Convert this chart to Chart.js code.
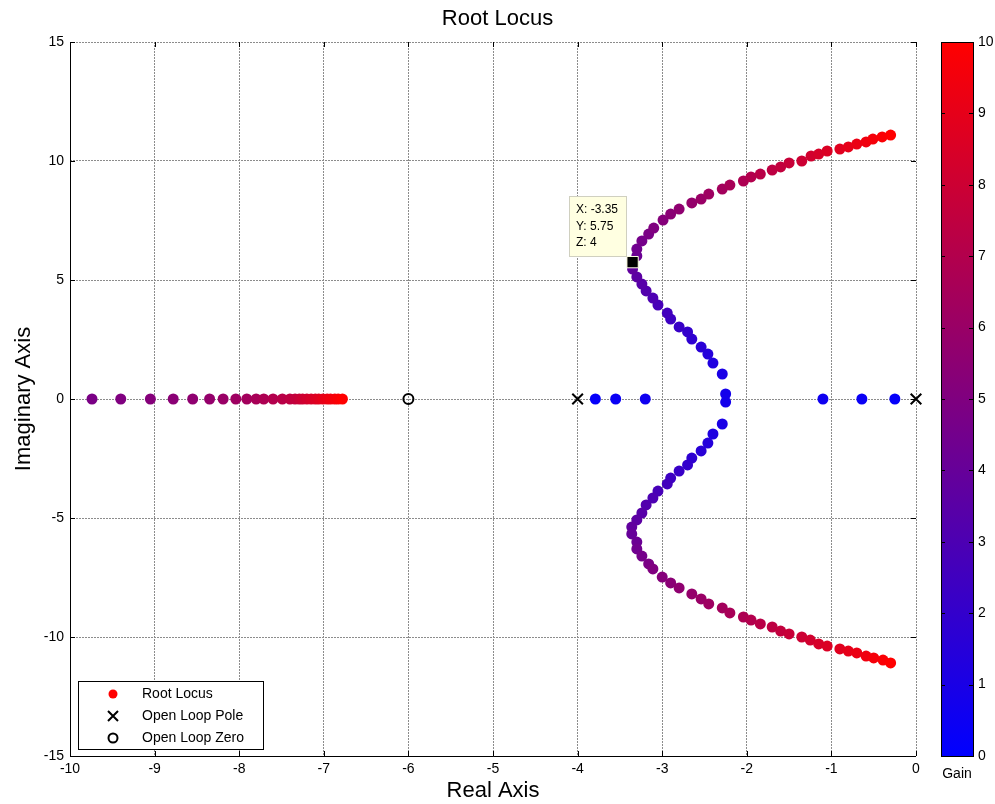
<!DOCTYPE html>
<html>
<head>
<meta charset="utf-8">
<title>Root Locus</title>
<script src="https://cdn.jsdelivr.net/npm/chart.js@4.4.1/dist/chart.umd.min.js"></script>
<style>
	html, body { margin: 0; padding: 0; background: #fff; }
	#wrap { width: 995px; height: 804px; }
</style>
</head>
<body>
<div id="wrap"><canvas id="locus" width="995" height="804"></canvas></div>
<script>
/* global Chart */
(function () {
	'use strict';

	// gain values the locus was sampled at
	var gainSteps = [
		0.2, 0.4, 0.6, 0.8, 1.0, 1.2, 1.4, 1.6, 1.8, 2.0,
		2.2, 2.4, 2.6, 2.8, 3.0, 3.2, 3.4, 3.6, 3.8, 4.0,
		4.2, 4.4, 4.6, 4.8, 5.0, 5.2, 5.4, 5.6, 5.8, 6.0,
		6.2, 6.4, 6.6, 6.8, 7.0, 7.2, 7.4, 7.6, 7.8, 8.0,
		8.2, 8.4, 8.6, 8.8, 9.0, 9.2, 9.4, 9.6, 9.8, 10.0
	];
	var gainMax = 10;

	// real-axis roots leaving the poles at 0 and -4
	var nearZeroRe = [ -0.25, -0.64, -1.10 ];
	var nearFourRe = [ -3.79, -3.55, -3.20 ];

	// complex pair, gain 0.8 .. 10
	var upperRe = [ -2.25, -2.29, -2.40, -2.46, -2.54, -2.65, -2.70, -2.80, -2.90, -2.94,
		-3.05, -3.11, -3.19, -3.24, -3.30, -3.35, -3.35, -3.30, -3.30, -3.24,
		-3.16, -3.10, -2.99, -2.90, -2.80, -2.65, -2.54, -2.45, -2.29, -2.20,
		-2.04, -1.95, -1.84, -1.70, -1.60, -1.50, -1.35, -1.24, -1.15, -1.05,
		-0.90, -0.80, -0.70, -0.59, -0.51, -0.40, -0.30 ];
	var upperIm = [ 0.21, 1.05, 1.51, 1.89, 2.18, 2.52, 2.82, 3.03, 3.36, 3.61,
		3.95, 4.24, 4.54, 4.83, 5.13, 5.46, 5.75, 6.01, 6.30, 6.64,
		6.93, 7.18, 7.52, 7.77, 7.98, 8.24, 8.40, 8.61, 8.82, 8.99,
		9.16, 9.33, 9.45, 9.62, 9.75, 9.92, 10.00, 10.21, 10.29, 10.42,
		10.50, 10.59, 10.71, 10.80, 10.92, 11.01, 11.09 ];
	var lowerRe = [ -2.25, -2.29, -2.40, -2.46, -2.54, -2.65, -2.70, -2.80, -2.90, -2.94,
		-3.05, -3.11, -3.19, -3.24, -3.30, -3.36, -3.36, -3.30, -3.30, -3.24,
		-3.16, -3.11, -3.00, -2.90, -2.80, -2.65, -2.54, -2.45, -2.29, -2.20,
		-2.04, -1.95, -1.84, -1.70, -1.60, -1.50, -1.35, -1.25, -1.15, -1.05,
		-0.90, -0.80, -0.70, -0.59, -0.50, -0.39, -0.30 ];
	var lowerIm = [ -0.13, -1.05, -1.47, -1.85, -2.18, -2.48, -2.77, -3.03, -3.32, -3.57,
		-3.87, -4.16, -4.45, -4.79, -5.08, -5.38, -5.67, -6.01, -6.30, -6.60,
		-6.93, -7.14, -7.48, -7.73, -7.94, -8.19, -8.40, -8.61, -8.78, -8.99,
		-9.16, -9.29, -9.45, -9.58, -9.75, -9.87, -10.00, -10.13, -10.29, -10.38,
		-10.50, -10.59, -10.67, -10.80, -10.88, -10.97, -11.09 ];

	// real-axis branch heading for the zero, gain 4.8 .. 10
	var leftRe = [ -9.74, -9.40, -9.05, -8.78, -8.55, -8.35, -8.19, -8.04, -7.91, -7.80,
		-7.71, -7.60, -7.49, -7.40, -7.34, -7.29, -7.25, -7.20, -7.15, -7.10,
		-7.06, -7.01, -6.96, -6.92, -6.87, -6.83, -6.78 ];

	var poleRe = [ 0, -4 ];
	var zeroRe = [ -6 ];

	// data cursor
	var tipRe = -3.35;
	var tipIm = 5.75;
	var tipGain = 4;

	var legendLabels = [ 'Root Locus', 'Open Loop Pole', 'Open Loop Zero' ];

	var FONT = '"Liberation Sans", Arial, Helvetica, sans-serif';
	Chart.defaults.font.family = FONT;
	Chart.defaults.color = '#000';

	function gainColor( k ) {
		var t = k / gainMax;
		return 'rgb(' + Math.round( 255 * t ) + ',0,' + Math.round( 255 * ( 1 - t ) ) + ')';
	}

	function branch( re, im, gains ) {
		return {
			data: re.map( function ( x, i ) { return { x: x, y: im ? im[ i ] : 0 }; } ),
			pointStyle: 'circle',
			pointRadius: 5.5,
			pointBorderWidth: 0,
			pointBackgroundColor: gains.map( gainColor ),
			clip: false,
			order: 3,
		};
	}

	var decor = {
		id: 'decor',
		afterDraw: function ( chart ) {
			var ctx = chart.ctx;
			var a = chart.chartArea;
			var xs = chart.scales.x;
			var ys = chart.scales.y;
			var gs = chart.scales.gain;

			ctx.save();

			// inward tick marks on all four sides, then the black axes
			ctx.strokeStyle = '#000';
			ctx.lineWidth = 1;
			ctx.beginPath();
			xs.ticks.forEach( function ( t ) {
				var px = Math.round( xs.getPixelForValue( t.value ) ) + 0.5;
				ctx.moveTo( px, a.bottom ); ctx.lineTo( px, a.bottom - 5 );
				ctx.moveTo( px, a.top ); ctx.lineTo( px, a.top + 5 );
			} );
			ys.ticks.forEach( function ( t ) {
				var py = Math.round( ys.getPixelForValue( t.value ) ) + 0.5;
				ctx.moveTo( a.left, py ); ctx.lineTo( a.left + 5, py );
				ctx.moveTo( a.right, py ); ctx.lineTo( a.right - 5, py );
			} );
			ctx.moveTo( a.left + 0.5, a.top );
			ctx.lineTo( a.left + 0.5, a.bottom + 0.5 );
			ctx.lineTo( a.right, a.bottom + 0.5 );
			ctx.stroke();

			// colour bar
			var cbL = 941, cbR = 973;
			var cbTop = gs.getPixelForValue( gainMax );
			var cbBot = gs.getPixelForValue( 0 );
			var grad = ctx.createLinearGradient( 0, cbBot, 0, cbTop );
			grad.addColorStop( 0, gainColor( 0 ) );
			grad.addColorStop( 1, gainColor( gainMax ) );
			ctx.fillStyle = grad;
			ctx.fillRect( cbL, cbTop, cbR - cbL, cbBot - cbTop );
			ctx.beginPath();
			gs.ticks.forEach( function ( t ) {
				var py = Math.round( gs.getPixelForValue( t.value ) ) + 0.5;
				ctx.moveTo( cbL, py ); ctx.lineTo( cbL + 4, py );
				ctx.moveTo( cbR, py ); ctx.lineTo( cbR - 4, py );
			} );
			ctx.strokeStyle = '#000';
			ctx.stroke();
			ctx.strokeRect( cbL + 0.5, Math.round( cbTop ) + 0.5, cbR - cbL, Math.round( cbBot - cbTop ) );
			ctx.fillStyle = '#000';
			ctx.font = '14px ' + FONT;
			ctx.textAlign = 'center';
			ctx.textBaseline = 'middle';
			ctx.fillText( 'Gain', ( cbL + cbR ) / 2, 774 );

			// legend
			var lx = 78, ly = 681, lw = 185, lh = 68;
			ctx.fillStyle = '#fff';
			ctx.fillRect( lx, ly, lw, lh );
			ctx.strokeStyle = '#000';
			ctx.lineWidth = 1;
			ctx.strokeRect( lx + 0.5, ly + 0.5, lw, lh );
			var mx = lx + 35;
			var rows = [ ly + 13, ly + 35, ly + 57 ];
			ctx.fillStyle = gainColor( gainMax );
			ctx.beginPath();
			ctx.arc( mx, rows[ 0 ], 4.5, 0, Math.PI * 2 );
			ctx.fill();
			ctx.lineWidth = 2;
			ctx.strokeStyle = '#000';
			ctx.beginPath();
			ctx.moveTo( mx - 5, rows[ 1 ] - 5 ); ctx.lineTo( mx + 5, rows[ 1 ] + 5 );
			ctx.moveTo( mx + 5, rows[ 1 ] - 5 ); ctx.lineTo( mx - 5, rows[ 1 ] + 5 );
			ctx.stroke();
			ctx.beginPath();
			ctx.arc( mx, rows[ 2 ], 4.5, 0, Math.PI * 2 );
			ctx.stroke();
			ctx.fillStyle = '#000';
			ctx.font = '14px ' + FONT;
			ctx.textAlign = 'left';
			legendLabels.forEach( function ( label, i ) {
				ctx.fillText( label, lx + 64, rows[ i ] );
			} );

			// data cursor box above-left of the marked point
			var tx = xs.getPixelForValue( tipRe );
			var ty = ys.getPixelForValue( tipIm );
			var bw = 57, bh = 60;
			var bx = Math.round( tx - 7 - bw ), by = Math.round( ty - 6 - bh );
			ctx.fillStyle = '#ffffe1';
			ctx.fillRect( bx, by, bw, bh );
			ctx.strokeStyle = '#d0d0c0';
			ctx.lineWidth = 1;
			ctx.strokeRect( bx + 0.5, by + 0.5, bw, bh );
			ctx.fillStyle = '#000';
			ctx.font = '12px ' + FONT;
			ctx.fillText( 'X: ' + tipRe.toFixed( 2 ), bx + 7, by + 14 );
			ctx.fillText( 'Y: ' + tipIm.toFixed( 2 ), bx + 7, by + 31 );
			ctx.fillText( 'Z: ' + tipGain, bx + 7, by + 47 );

			ctx.restore();
		},
	};

	var gridLook = { color: '#8c8c8c', lineWidth: 1, drawTicks: false };

	new Chart( document.getElementById( 'locus' ), {
		type: 'scatter',
		data: {
			datasets: [
				{
					data: [ { x: tipRe, y: tipIm } ],
					pointStyle: 'rect',
					pointRadius: 8,
					pointBackgroundColor: '#000',
					pointBorderColor: '#ffffe1',
					pointBorderWidth: 1,
					clip: false,
					order: 0,
				},
				{
					data: poleRe.map( function ( x ) { return { x: x, y: 0 }; } ),
					pointStyle: 'crossRot',
					pointRadius: 7.5,
					pointBorderColor: '#000',
					pointBorderWidth: 2,
					clip: false,
					order: 1,
				},
				{
					data: zeroRe.map( function ( x ) { return { x: x, y: 0 }; } ),
					pointStyle: 'circle',
					pointRadius: 5,
					pointBackgroundColor: 'rgba(0,0,0,0)',
					pointBorderColor: '#000',
					pointBorderWidth: 2,
					clip: false,
					order: 1,
				},
				branch( nearZeroRe, null, gainSteps.slice( 0, 3 ) ),
				branch( nearFourRe, null, gainSteps.slice( 0, 3 ) ),
				branch( upperRe, upperIm, gainSteps.slice( 3 ) ),
				branch( lowerRe, lowerIm, gainSteps.slice( 3 ) ),
				branch( leftRe, null, gainSteps.slice( 23 ) ),
			],
		},
		options: {
			responsive: false,
			animation: false,
			events: [],
			layout: { padding: 0 },
			plugins: {
				legend: { display: false },
				tooltip: { enabled: false },
				title: {
					display: true,
					text: 'Root Locus',
					color: '#000',
					font: { size: 22, weight: 'normal' },
					padding: { top: 6, bottom: 9.6 },
				},
			},
			scales: {
				x: {
					type: 'linear',
					min: -10,
					max: 0,
					ticks: { stepSize: 1, padding: 5, font: { size: 14 } },
					grid: gridLook,
					border: { display: false, dash: [ 2, 1 ] },
					title: { display: true, text: 'Real Axis', font: { size: 22 }, padding: { top: 0, bottom: 0 } },
					afterFit: function ( s ) { s.height = 48; },
				},
				y: {
					type: 'linear',
					min: -15,
					max: 15,
					ticks: { stepSize: 5, padding: 6, font: { size: 14 } },
					grid: gridLook,
					border: { display: false, dash: [ 2, 1 ] },
					title: { display: true, text: 'Imaginary Axis', font: { size: 22 }, padding: { top: 11, bottom: 0 } },
					afterFit: function ( s ) { s.width = 70; },
				},
				gain: {
					type: 'linear',
					position: 'right',
					min: 0,
					max: gainMax,
					ticks: { stepSize: 1, padding: 62, font: { size: 14 } },
					grid: { display: false, drawTicks: false },
					border: { display: false },
					afterFit: function ( s ) {
						// the wide label gap is horizontal only
						s.width = 79;
						s.paddingTop = 8;
						s.paddingBottom = 8;
					},
				},
			},
		},
		plugins: [ decor ],
	} );
}() );
</script>
</body>
</html>
